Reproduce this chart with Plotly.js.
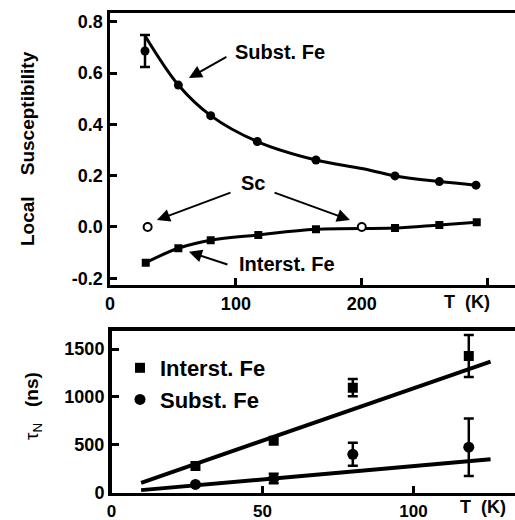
<!DOCTYPE html>
<html>
<head>
<meta charset="utf-8">
<script src="https://cdn.plot.ly/plotly-3.0.1.min.js"></script>
<style>html,body{margin:0;padding:0;background:#fff}#chart{width:515px;height:520px}</style>
</head>
<body>
<div id="chart"></div>
<script>
// ---- Top panel: local susceptibility vs T ----
const substT = [27.8, 54.3, 80, 117, 163.6, 226.4, 261.6, 290.7];
const substChi = [0.686, 0.553, 0.434, 0.333, 0.261, 0.199, 0.177, 0.163];
const substChiErr = [0.062, NaN, NaN, NaN, NaN, NaN, NaN, NaN];
const substFitT = [27.8, 54.3, 80, 117, 163.6, 200, 226.4, 261.6, 290.7];
const substFitChi = [0.745, 0.553, 0.434, 0.333, 0.261, 0.228, 0.199, 0.177, 0.163];
const interT = [28.4, 54.3, 80, 117.8, 163.6, 226.4, 261.6, 291.3];
const interChi = [-0.139, -0.083, -0.052, -0.031, -0.009, -0.004, 0.008, 0.018];
const scT = [29.9, 200];
const scChi = [0.0, 0.0];
const topXTicks = [0, 100, 200, 300];
const topXLabels = ['0', '100', '200', ''];
const topYTicks = [-0.2, 0, 0.2, 0.4, 0.6, 0.8];
const topYLabels = ['-0.2', '0.0', '0.2', '0.4', '0.6', '0.8'];

// ---- Bottom panel: tau_N vs T ----
const tauT = [27.8, 53.7, 79.9, 118.3];
const tauInter = [279, 543, 1096, 1427];
const tauInterErr = [NaN, NaN, 90, 220];
const tauSubst = [87, 150, 401, 476];
const tauSubstErr = [NaN, 50, 120, 300];
const fitT = [9.8, 125.5];
const fitInter = [104, 1368];
const fitSubst = [28, 349];
const botXTicks = [0, 50, 100];
const botXLabels = ['0', '50', '100'];
const botYTicks = [0, 500, 1000, 1500];
const botYLabels = ['0', '500', '1000', '1500'];

const FONT = 'Liberation Sans, Arial, Helvetica, sans-serif';
const W = 515, H = 520;

const traces = [
  {x: substFitT, y: substFitChi, xaxis:'x', yaxis:'y', mode:'lines', line:{shape:'spline', color:'black', width:3}, showlegend:false, hoverinfo:'skip'},
  {x: substT, y: substChi, xaxis:'x', yaxis:'y', mode:'markers', marker:{symbol:'circle', size:9, color:'black'},
   error_y:{type:'data', array: substChiErr, color:'black', thickness:2.5, width:5}, showlegend:false},
  {x: interT, y: interChi, xaxis:'x', yaxis:'y', mode:'lines+markers', line:{shape:'spline', color:'black', width:3},
   marker:{symbol:'square', size:8, color:'black'}, showlegend:false},
  {x: scT, y: scChi, xaxis:'x', yaxis:'y', mode:'markers', marker:{symbol:'circle', size:8, color:'white', line:{color:'black', width:2}}, showlegend:false},

  {x: fitT, y: fitInter, xaxis:'x2', yaxis:'y2', mode:'lines', line:{color:'black', width:4}, showlegend:false},
  {x: fitT, y: fitSubst, xaxis:'x2', yaxis:'y2', mode:'lines', line:{color:'black', width:4}, showlegend:false},
  {x: tauT, y: tauInter, xaxis:'x2', yaxis:'y2', mode:'markers', name:'Interst. Fe', marker:{symbol:'square', size:10, color:'black'},
   error_y:{type:'data', array: tauInterErr, color:'black', thickness:2.5, width:5}},
  {x: tauT, y: tauSubst, xaxis:'x2', yaxis:'y2', mode:'markers', name:'Subst. Fe', marker:{symbol:'circle', size:11, color:'black'},
   error_y:{type:'data', array: tauSubstErr, color:'black', thickness:2.5, width:5}}
];

const axisCommon = {showline:true, linecolor:'black', linewidth:3.5, ticks:'inside', ticklen:7, tickwidth:3, tickcolor:'black',
  showgrid:false, zeroline:false, tickfont:{family:FONT, size:18, color:'black', weight:'bold'}, tickmode:'array', fixedrange:true};

const ann = [];
function txt(text, x, y, xref, yref, size, angle) {
  ann.push({text:text, x:x, y:y, xref:xref, yref:yref, showarrow:false, xanchor:'center', yanchor:'middle',
    textangle: angle || 0, font:{family:FONT, size:size, color:'black', weight:'bold'}});
}
function arrow(hx, hy, tx, ty) {
  ann.push({text:'', x:hx, y:hy, ax:tx, ay:ty, xref:'x', yref:'y', axref:'x', ayref:'y', showarrow:true,
    arrowhead:2, arrowsize:1.3, arrowwidth:2, arrowcolor:'black', standoff:0, startstandoff:0});
}
txt('Subst. Fe', 135, 0.682, 'x', 'y', 20);
arrow(62.7, 0.581, 93.7, 0.666);
txt('Sc', 113.6, 0.171, 'x', 'y', 20);
arrow(37.3, 0.027, 96.9, 0.136);
arrow(190.6, 0.027, 129.5, 0.136);
txt('Interst. Fe', 140.6, -0.144, 'x', 'y', 20);
arrow(62.7, -0.097, 94.5, -0.148);
txt('T  (K)', 283.6, (H-302)/H, 'x', 'paper', 18);
txt('T  (K)', 123, (H-507)/H, 'x2', 'paper', 18);
txt('Local\u00a0\u00a0\u00a0\u00a0Susceptibility', 27/W, (H-149)/H, 'paper', 'paper', 19, -90);
txt('<span style="font-weight:normal">τ<sub>N</sub></span>\u00a0\u00a0\u00a0(ns)', 33/W, (H-406)/H, 'paper', 'paper', 19, -90);

const layout = {
  width: W, height: H, margin:{l:0, r:0, t:0, b:0}, paper_bgcolor:'white', plot_bgcolor:'white',
  font:{family:FONT, color:'black'},
  xaxis: Object.assign({}, axisCommon, {domain:[110/W, 1], range:[0, 321.7], mirror:true, anchor:'y', tickvals: topXTicks, ticktext: topXLabels}),
  yaxis: Object.assign({}, axisCommon, {domain:[(H-284.7)/H, (H-13)/H], range:[-0.225, 0.834], anchor:'x', tickvals: topYTicks, ticktext: topYLabels}),
  xaxis2: Object.assign({}, axisCommon, {domain:[111.5/W, 1], range:[0, 133.6], mirror:true, anchor:'y2', tickvals: botXTicks, ticktext: botXLabels,
    tickfont:{family:FONT, size:17, color:'black', weight:'bold'}}),
  yaxis2: Object.assign({}, axisCommon, {domain:[(H-492.8)/H, (H-330.5)/H], range:[0, 1693], anchor:'x2', tickvals: botYTicks, ticktext: botYLabels}),
  showlegend: true,
  legend: {x: 120/W, y: (H-347)/H, xanchor:'left', yanchor:'top', bgcolor:'rgba(0,0,0,0)', borderwidth:0,
    font:{family:FONT, size:22, color:'black', weight:'bold'}, traceorder:'normal'},
  annotations: ann
};

Plotly.newPlot('chart', traces, layout, {staticPlot:true, displayModeBar:false});
</script>
</body>
</html>
